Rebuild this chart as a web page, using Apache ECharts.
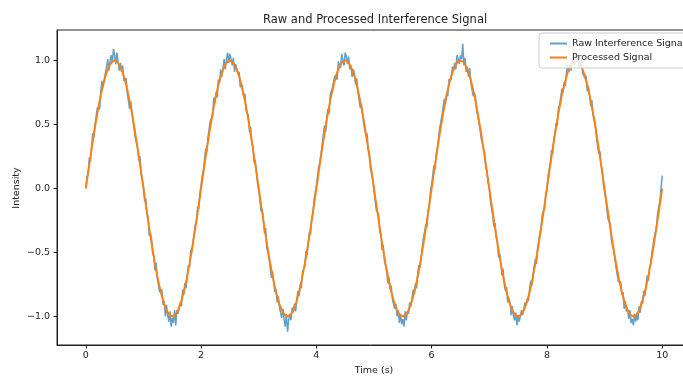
<!DOCTYPE html>
<html>
<head>
<meta charset="utf-8">
<script src="https://cdn.jsdelivr.net/npm/echarts@6/dist/echarts.min.js"></script>
<style>
  html, body { margin: 0; padding: 0; background: #fff; }
  #chart { width: 683px; height: 376px; }
</style>
</head>
<body>
<div id="chart"></div>
<script>
const xTicks = [0, 2, 4, 6, 8, 10];
const yTicks = [-1, -0.5, 0, 0.5, 1];

// raw samples every 0.02 s, one row per half period
const rawStep = 0.02;
const rawIntensity = [
  0.00, 0.09, 0.11, 0.24, 0.21, 0.32, 0.43, 0.40, 0.50, 0.49, 0.63, 0.64, 0.62, 0.76, 0.84, 0.79, 0.85, 0.84, 0.95, 1.01, 0.92, 0.99, 1.04, 0.98, 1.09, 1.04, 0.97, 1.06, 0.99, 0.92, 0.98, 0.91, 0.96, 0.84, 0.84, 0.86, 0.74, 0.75, 0.62, 0.68, 0.60, 0.52, 0.53, 0.39, 0.40, 0.31, 0.22, 0.25, 0.11, 0.07,
  0.02, -0.10, -0.08, -0.20, -0.22, -0.37, -0.35, -0.39, -0.51, -0.53, -0.64, -0.58, -0.70, -0.70, -0.81, -0.81, -0.79, -0.91, -0.88, -1.00, -0.91, -0.99, -1.04, -0.96, -1.08, -1.01, -1.05, -0.95, -1.07, -0.95, -0.98, -0.99, -0.89, -0.92, -0.79, -0.83, -0.74, -0.78, -0.68, -0.60, -0.62, -0.48, -0.50, -0.42, -0.41, -0.28, -0.26, -0.14, -0.16, -0.04,
  -0.03, 0.10, 0.14, 0.14, 0.31, 0.29, 0.40, 0.39, 0.53, 0.54, 0.56, 0.71, 0.67, 0.75, 0.71, 0.85, 0.82, 0.93, 0.87, 0.94, 1.01, 0.93, 1.01, 1.06, 0.98, 1.05, 1.01, 0.96, 1.02, 0.91, 0.97, 0.98, 0.89, 0.91, 0.79, 0.82, 0.81, 0.71, 0.74, 0.61, 0.59, 0.57, 0.44, 0.48, 0.36, 0.33, 0.20, 0.22, 0.14, 0.04,
  0.04, -0.08, -0.18, -0.16, -0.24, -0.35, -0.31, -0.46, -0.46, -0.55, -0.54, -0.70, -0.65, -0.73, -0.81, -0.79, -0.89, -0.84, -0.93, -0.92, -1.01, -0.94, -1.02, -1.08, -0.98, -1.12, -1.03, -0.98, -1.03, -0.93, -0.97, -0.90, -0.96, -0.87, -0.80, -0.84, -0.75, -0.78, -0.65, -0.64, -0.61, -0.49, -0.52, -0.42, -0.34, -0.36, -0.23, -0.20, -0.09, -0.09,
  0.02, 0.03, 0.17, 0.20, 0.20, 0.34, 0.35, 0.49, 0.44, 0.55, 0.62, 0.58, 0.73, 0.72, 0.79, 0.78, 0.88, 0.88, 0.85, 0.99, 0.97, 0.94, 1.05, 1.00, 0.96, 1.06, 1.03, 0.97, 1.03, 0.93, 0.96, 0.87, 0.93, 0.90, 0.81, 0.86, 0.76, 0.77, 0.63, 0.66, 0.59, 0.51, 0.52, 0.41, 0.43, 0.30, 0.28, 0.15, 0.15, 0.07,
  -0.02, -0.03, -0.17, -0.17, -0.20, -0.34, -0.36, -0.48, -0.44, -0.56, -0.56, -0.65, -0.74, -0.69, -0.79, -0.76, -0.87, -0.87, -0.94, -0.90, -1.00, -0.95, -1.05, -0.98, -1.06, -1.02, -1.08, -0.96, -1.03, -0.96, -0.98, -0.89, -0.92, -0.92, -0.79, -0.82, -0.74, -0.78, -0.66, -0.60, -0.62, -0.53, -0.52, -0.38, -0.39, -0.28, -0.30, -0.17, -0.13, -0.02,
  0.03, 0.04, 0.18, 0.15, 0.27, 0.32, 0.32, 0.47, 0.47, 0.57, 0.56, 0.70, 0.66, 0.74, 0.72, 0.85, 0.86, 0.85, 0.95, 0.92, 0.98, 0.93, 1.04, 1.01, 0.97, 1.04, 1.01, 1.13, 0.96, 1.02, 0.91, 0.95, 0.87, 0.94, 0.83, 0.84, 0.72, 0.75, 0.72, 0.61, 0.60, 0.52, 0.53, 0.39, 0.39, 0.31, 0.28, 0.16, 0.14, 0.04,
  0.01, -0.10, -0.10, -0.21, -0.30, -0.27, -0.38, -0.41, -0.54, -0.51, -0.58, -0.68, -0.63, -0.75, -0.80, -0.77, -0.89, -0.86, -0.89, -0.99, -0.92, -1.00, -1.03, -0.97, -1.07, -0.99, -1.04, -1.05, -0.95, -0.99, -1.00, -0.89, -0.91, -0.86, -0.88, -0.78, -0.72, -0.76, -0.67, -0.66, -0.55, -0.59, -0.46, -0.40, -0.41, -0.30, -0.20, -0.21, -0.16, -0.04,
  -0.02, 0.10, 0.10, 0.20, 0.30, 0.27, 0.39, 0.42, 0.51, 0.49, 0.63, 0.65, 0.65, 0.78, 0.75, 0.83, 0.80, 0.91, 0.96, 0.91, 0.96, 0.92, 1.02, 1.01, 0.97, 1.05, 0.99, 1.02, 0.94, 0.99, 1.01, 0.90, 0.91, 0.86, 0.88, 0.76, 0.80, 0.73, 0.64, 0.69, 0.57, 0.55, 0.51, 0.40, 0.39, 0.27, 0.29, 0.18, 0.15, 0.03,
  0.03, -0.08, -0.09, -0.24, -0.24, -0.28, -0.41, -0.41, -0.49, -0.49, -0.62, -0.62, -0.73, -0.72, -0.73, -0.83, -0.81, -0.94, -0.88, -0.96, -0.94, -1.02, -0.95, -1.05, -1.02, -1.07, -0.98, -1.04, -0.99, -1.03, -0.92, -0.97, -0.88, -0.90, -0.80, -0.84, -0.76, -0.68, -0.72, -0.62, -0.60, -0.51, -0.51, -0.39, -0.39, -0.30, -0.20, -0.20, -0.10, 0.00,
  0.10
];

// processed samples every 0.05 s
const processedStep = 0.05;
const processedIntensity = [
  0, 0.156, 0.309, 0.454, 0.588, 0.707, 0.809, 0.891, 0.951, 0.988, 1, 0.988, 0.951, 0.891, 0.809, 0.707, 0.588, 0.454, 0.309, 0.156,
  0, -0.156, -0.309, -0.454, -0.588, -0.707, -0.809, -0.891, -0.951, -0.988, -1, -0.988, -0.951, -0.891, -0.809, -0.707, -0.588, -0.454, -0.309, -0.156,
  0, 0.156, 0.309, 0.454, 0.588, 0.707, 0.809, 0.891, 0.951, 0.988, 1, 0.988, 0.951, 0.891, 0.809, 0.707, 0.588, 0.454, 0.309, 0.156,
  0, -0.156, -0.309, -0.454, -0.588, -0.707, -0.809, -0.891, -0.951, -0.988, -1, -0.988, -0.951, -0.891, -0.809, -0.707, -0.588, -0.454, -0.309, -0.156,
  0, 0.156, 0.309, 0.454, 0.588, 0.707, 0.809, 0.891, 0.951, 0.988, 1, 0.988, 0.951, 0.891, 0.809, 0.707, 0.588, 0.454, 0.309, 0.156,
  0, -0.156, -0.309, -0.454, -0.588, -0.707, -0.809, -0.891, -0.951, -0.988, -1, -0.988, -0.951, -0.891, -0.809, -0.707, -0.588, -0.454, -0.309, -0.156,
  0, 0.156, 0.309, 0.454, 0.588, 0.707, 0.809, 0.891, 0.951, 0.988, 1, 0.988, 0.951, 0.891, 0.809, 0.707, 0.588, 0.454, 0.309, 0.156,
  0, -0.156, -0.309, -0.454, -0.588, -0.707, -0.809, -0.891, -0.951, -0.988, -1, -0.988, -0.951, -0.891, -0.809, -0.707, -0.588, -0.454, -0.309, -0.156,
  0, 0.156, 0.309, 0.454, 0.588, 0.707, 0.809, 0.891, 0.951, 0.988, 1, 0.988, 0.951, 0.891, 0.809, 0.707, 0.588, 0.454, 0.309, 0.156,
  0, -0.156, -0.309, -0.454, -0.588, -0.707, -0.809, -0.891, -0.951, -0.988, -1, -0.988, -0.951, -0.891, -0.809, -0.707, -0.588, -0.454, -0.309, -0.156,
  0
];

const font = "DejaVu Sans";
const ink = "#222";
const rawColor = "#1f77b4";
const processedColor = "#ff7f0e";

const fmt = (v) => (v < 0 ? "\u2212" + Math.abs(v).toFixed(1) : v.toFixed(1));

const chart = echarts.init(document.getElementById("chart"), null, { renderer: "canvas" });

chart.setOption({
  animation: false,
  title: {
    text: "Raw and Processed Interference Signal",
    left: 263,
    top: 14,
    padding: 0,
    textStyle: { fontFamily: font, fontSize: 11.5, fontWeight: "normal", color: ink },
  },
  // y axis title placed by hand, the axis name kept drifting left
  graphic: [
    {
      type: "text",
      x: 17,
      y: 188,
      rotation: Math.PI / 2,
      style: {
        text: "Intensity",
        align: "center",
        verticalAlign: "middle",
        fontFamily: font,
        fontSize: 9.5,
        fill: ink,
      },
    },
  ],
  legend: {
    orient: "vertical",
    left: 539,
    top: 33,
    padding: [5, 10, 5, 11],
    itemWidth: 17,
    itemHeight: 2,
    itemGap: 3,
    backgroundColor: "rgba(255,255,255,0.8)",
    borderColor: "#cccccc",
    borderWidth: 1,
    borderRadius: 3,
    textStyle: { fontFamily: font, fontSize: 9.5, color: ink, lineHeight: 11 },
    data: [
      { name: "Raw Interference Signal", icon: "rect", itemStyle: { color: "rgba(31,119,180,0.7)" } },
      { name: "Processed Signal", icon: "rect", itemStyle: { color: processedColor } },
    ],
  },
  grid: {
    left: 57, top: 30, right: -8, bottom: 31,
    show: true, borderColor: ink, borderWidth: 1,
    containLabel: false, outerBoundsMode: "none",
  },
  xAxis: {
    type: "value",
    min: -0.5,
    max: 10.5,
    name: "Time (s)",
    nameLocation: "middle",
    nameGap: 21,
    nameTextStyle: { fontFamily: font, fontSize: 9.5, color: ink },
    axisLine: { show: true, onZero: false, lineStyle: { color: ink, width: 1 } },
    axisTick: { show: true, customValues: xTicks, length: 3.5, lineStyle: { color: ink } },
    axisLabel: { customValues: xTicks, fontFamily: font, fontSize: 9.5, color: ink, margin: 6 },
    splitLine: { show: false },
  },
  yAxis: {
    type: "value",
    min: -1.223,
    max: 1.237,
    axisLine: { show: true, onZero: false, lineStyle: { color: ink, width: 1 } },
    axisTick: { show: true, customValues: yTicks, length: 3.5, lineStyle: { color: ink } },
    axisLabel: { customValues: yTicks, formatter: fmt, fontFamily: font, fontSize: 9.5, color: ink, margin: 7 },
    splitLine: { show: false },
  },
  series: [
    {
      name: "Raw Interference Signal",
      type: "line",
      data: rawIntensity.map((v, i) => [+(i * rawStep).toFixed(2), v]),
      showSymbol: false,
      symbol: "none",
      color: rawColor,
      lineStyle: { color: rawColor, width: 1.5, opacity: 0.7 },
    },
    {
      name: "Processed Signal",
      type: "line",
      data: processedIntensity.map((v, i) => [+(i * processedStep).toFixed(2), v]),
      showSymbol: false,
      symbol: "none",
      color: processedColor,
      lineStyle: { color: processedColor, width: 1.9 },
    },
  ],
});
</script>
</body>
</html>
